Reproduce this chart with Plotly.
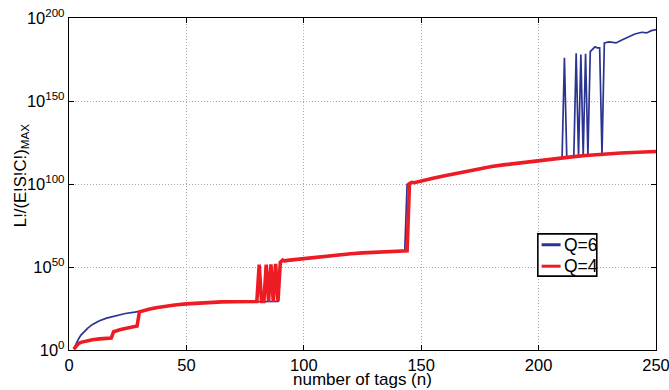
import numpy as np
import plotly.graph_objects as go

# number of tags n and log10 of L!/(E!S!C!)_MAX
n_q4 = [2, 3, 4, 5, 7, 10, 13, 16, 18, 19, 20, 22, 24, 26, 28, 29, 30, 32, 34, 37, 40, 45, 50,
        55, 60, 65, 70, 75, 80, 81, 82, 83, 84, 85, 86, 87, 88, 89, 90, 91, 92, 93, 95, 100,
        105, 110, 115, 120, 125, 130, 135, 140, 144, 145, 146, 147, 150, 155, 160, 165, 170,
        175, 180, 185, 190, 195, 200, 205, 210, 215, 220, 225, 230, 235, 240, 245, 250]
exp_q4 = [0.5, 2.5, 3.8, 4.6, 5.4, 6.2, 6.7, 7.0, 7.2, 11.0, 11.5, 12.3, 12.9, 13.5, 14.0, 14.4,
          23.0, 23.9, 24.6, 25.5, 26.2, 27.1, 27.8, 28.3, 28.7, 29.0, 29.1, 29.2, 29.2, 51.4,
          29.2, 29.2, 51.5, 29.2, 51.6, 29.2, 51.9, 29.3, 52.8, 54.2, 53.6, 54.0, 54.3, 55.2,
          56.0, 56.8, 57.5, 58.0, 58.5, 58.9, 59.2, 59.5, 59.7, 100.2, 101.0, 100.8, 102.0,
          103.5, 105.0, 106.5, 108.0, 109.3, 110.5, 111.5, 112.4, 113.3, 114.2, 115.0, 115.8,
          116.5, 117.2, 117.8, 118.3, 118.7, 119.0, 119.3, 119.6]

n_q6 = [2, 3, 4, 5, 6, 8, 10, 13, 16, 20, 24, 28, 30, 32, 34, 37, 40, 45, 50, 55, 60, 65, 70,
        75, 80, 85, 89, 90, 91, 92, 93, 95, 100, 105, 110, 115, 120, 125, 130, 135, 140, 143,
        144, 145, 146, 147, 150, 155, 160, 165, 170, 175, 180, 185, 190, 195, 200, 205, 209,
        210, 211, 212, 213, 214, 215, 216, 217, 218, 219, 220, 221, 222, 223, 224, 225, 226,
        227, 228, 230, 232, 233, 235, 237, 239, 241, 244, 246, 248, 250]
exp_q6 = [0.5, 4.0, 6.5, 8.8, 10.5, 13.2, 15.4, 17.6, 19.2, 20.8, 22.0, 22.8, 23.3, 23.9, 24.6,
          25.5, 26.2, 27.1, 27.8, 28.3, 28.7, 29.0, 29.1, 29.2, 29.2, 29.2, 29.3, 52.8, 54.2,
          53.6, 54.0, 54.3, 55.2, 56.0, 56.8, 57.5, 58.0, 58.5, 58.9, 59.2, 59.5, 59.6, 99.8,
          100.2, 101.0, 100.8, 102.0, 103.5, 105.0, 106.5, 108.0, 109.3, 110.5, 111.5, 112.4,
          113.3, 114.2, 115.0, 115.6, 115.8, 176.1, 116.0, 116.1, 116.3, 116.5, 178.7, 116.7,
          178.0, 117.0, 178.5, 117.4, 179.7, 181.0, 182.6, 182.0, 182.0, 118.0, 185.0, 185.6,
          185.4, 185.0, 186.4, 187.6, 189.0, 190.4, 191.4, 191.0, 192.4, 193.0]

series_names = ["Q=6", "Q=4"]
series_colors = ["rgb(43,52,145)", "rgb(237,28,36)"]
series_widths = [1.7, 3.6]

x_ticks = [0, 50, 100, 150, 200, 250]
y_tick_exps = [0, 50, 100, 150, 200]

x_title = "number of tags (n)"
y_title = "L!/(E!S!C!)<sub>MAX</sub>"

y_q4 = np.power(10.0, exp_q4)
y_q6 = np.power(10.0, exp_q6)

font_family = "Arial, Liberation Sans, Helvetica, sans-serif"

fig = go.Figure()
fig.add_trace(go.Scatter(x=n_q6, y=y_q6, mode="lines", name=series_names[0],
                         line=dict(color=series_colors[0], width=series_widths[0])))
fig.add_trace(go.Scatter(x=n_q4, y=y_q4, mode="lines", name=series_names[1],
                         line=dict(color=series_colors[1], width=series_widths[1])))

axis_common = dict(
    showline=True, linecolor="black", linewidth=1.4, mirror="ticks",
    ticks="inside", ticklen=5, tickcolor="black", tickwidth=1,
    showgrid=True, gridcolor="#a8a8a8", griddash="1px,2px", gridwidth=1,
    zeroline=False, automargin=False, ticklabeloverflow="allow",
    tickfont=dict(size=16.5, color="black", family=font_family),
)

fig.update_xaxes(range=[0, 250], tickvals=x_ticks, ticktext=[str(v) for v in x_ticks],
                 **axis_common)
fig.update_yaxes(
    type="log", range=[0, 200],
    tickvals=[10.0 ** e for e in y_tick_exps],
    ticktext=["10<sup>%d</sup>" % e for e in y_tick_exps],
    **axis_common,
)

# axis titles placed as annotations (fixed positions like the MATLAB figure)
fig.add_annotation(text=x_title, xref="paper", yref="paper", x=0.5, y=-0.121,
                   xanchor="center", yanchor="bottom", showarrow=False, borderpad=0,
                   font=dict(size=17, color="black", family=font_family))
fig.add_annotation(text=y_title, xref="paper", yref="paper", x=-0.081, y=0.525,
                   xanchor="center", yanchor="middle", textangle=-90, showarrow=False,
                   font=dict(size=16.7, color="black", family=font_family))

# legend box drawn in paper coordinates (MATLAB style, compact)
fig.add_shape(type="rect", xref="paper", yref="paper", x0=0.7987, x1=0.8991,
              y0=0.2225, y1=0.3499, line=dict(color="black", width=1.6),
              fillcolor="white", layer="above")
legend_rows_y = [0.3170, 0.2524]
for name, color, ly in zip(series_names, series_colors, legend_rows_y):
    fig.add_shape(type="line", xref="paper", yref="paper", x0=0.8051, x1=0.8374,
                  y0=ly, y1=ly, line=dict(color=color, width=3), layer="above")
    fig.add_annotation(text=name, xref="paper", yref="paper", x=0.8395, y=ly,
                       xanchor="left", yanchor="middle", showarrow=False,
                       font=dict(size=17.5, color="black", family=font_family))

fig.update_layout(
    width=669, height=390,
    margin=dict(l=68.5, r=13, t=18, b=40),
    paper_bgcolor="white", plot_bgcolor="white",
    font=dict(family=font_family, color="black"),
    showlegend=False,
)

fig.write_html("out.html")
